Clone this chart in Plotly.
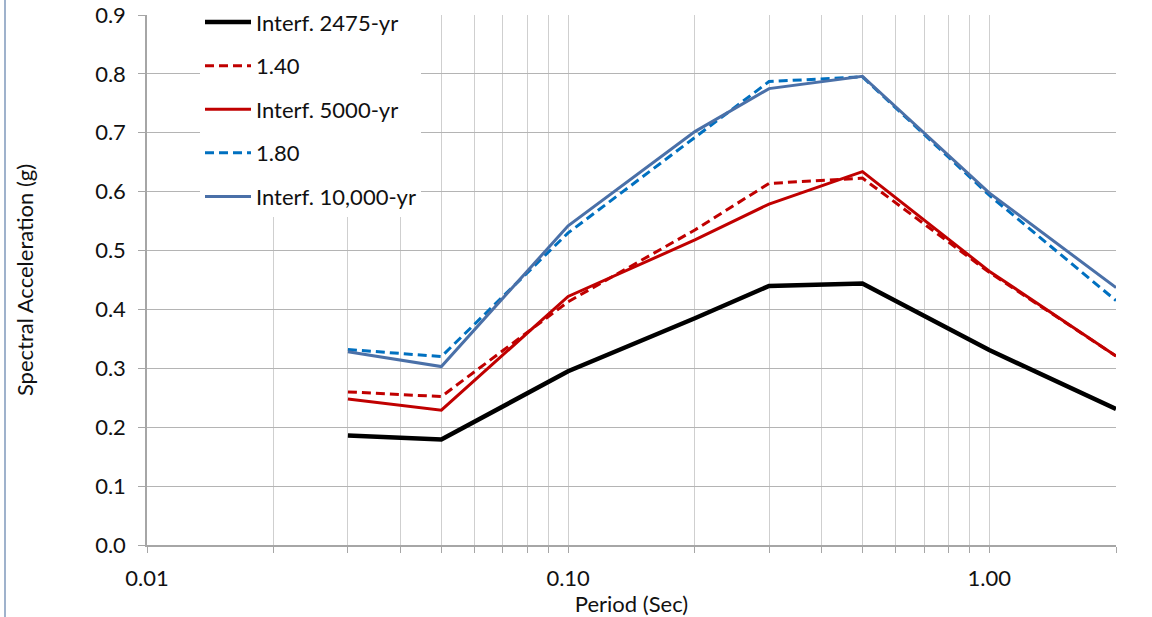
import plotly.graph_objects as go

# Spectral periods (s)
period = [0.03, 0.05, 0.1, 0.2, 0.3, 0.5, 1.0, 2.0]

# Spectral accelerations (g)
interf_2475 = [0.186, 0.179, 0.295, 0.385, 0.440, 0.444, 0.331, 0.231]
scaled_140 = [0.260, 0.252, 0.413, 0.535, 0.614, 0.623, 0.463, 0.321]
interf_5000 = [0.248, 0.229, 0.422, 0.518, 0.579, 0.634, 0.465, 0.321]
scaled_180 = [0.332, 0.320, 0.530, 0.693, 0.787, 0.795, 0.594, 0.415]
interf_10000 = [0.328, 0.303, 0.542, 0.702, 0.775, 0.796, 0.598, 0.437]

series = [
    ("Interf. 2475-yr", interf_2475, "#000000", 4.5, "solid"),
    ("1.40", scaled_140, "#C00000", 3, "9px,5px"),
    ("Interf. 5000-yr", interf_5000, "#C00000", 3, "solid"),
    ("1.80", scaled_180, "#0070C0", 3, "9px,5px"),
    ("Interf. 10,000-yr", interf_10000, "#4A70A8", 3, "solid"),
]

# x tick positions: every 1-9 step on the log axis, labels on decades only
x_ticks = [0.01, 0.02, 0.03, 0.04, 0.05, 0.06, 0.07, 0.08, 0.09,
           0.1, 0.2, 0.3, 0.4, 0.5, 0.6, 0.7, 0.8, 0.9, 1.0, 2.0]
x_labels = ["0.01"] + [""] * 8 + ["0.10"] + [""] * 8 + ["1.00", ""]

y_ticks = [0.0, 0.1, 0.2, 0.3, 0.4, 0.5, 0.6, 0.7, 0.8, 0.9]
y_labels = [f"{v:.1f}" for v in y_ticks]

fig = go.Figure()
for i, (name, vals, color, width, dash) in enumerate(series):
    fig.add_trace(go.Scatter(
        x=period, y=vals, mode="lines", name=name,
        legendgroup=f"g{i}",
        line=dict(color=color, width=width, dash=dash),
    ))

FONT = "Lato, Calibri, Arial, sans-serif"
TXT = "#111111"

ml, mr, mt, mb = 147, 36, 15, 72
plot_w = 1152 - ml - mr
plot_h = 617 - mt - mb

fig.update_layout(
    width=1152, height=617,
    margin=dict(l=ml, r=mr, t=mt, b=mb, autoexpand=False),
    paper_bgcolor="white", plot_bgcolor="white",
    font=dict(family=FONT, color=TXT, size=21),
    showlegend=True,
    legend=dict(
        xref="paper", yref="container",
        x=(200 - ml) / plot_w, y=0.998, xanchor="left", yanchor="top",
        bgcolor="white", borderwidth=0,
        font=dict(family=FONT, size=22, color=TXT),
        traceorder="grouped", tracegroupgap=12,
        itemwidth=46,
    ),
    xaxis=dict(
        type="log",
        range=[-2, 0.30103],
        tickvals=x_ticks, ticktext=x_labels,
        showgrid=True, gridcolor="#CFCFCF", gridwidth=1,
        showline=True, linecolor="#A6A6A6", linewidth=1.5,
        ticks="outside", ticklen=6, tickcolor="#A6A6A6",
        ticklabelstandoff=7,
        tickfont=dict(family=FONT, size=22, color=TXT),
        title=dict(text="Period (Sec)", standoff=4,
                   font=dict(family=FONT, size=22, color=TXT)),
        zeroline=False, mirror=False,
    ),
    yaxis=dict(
        range=[0, 0.9],
        tickvals=y_ticks, ticktext=y_labels,
        showgrid=True, gridcolor="#B4B4B4", gridwidth=1,
        showline=True, linecolor="#A6A6A6", linewidth=1.5,
        ticks="outside", ticklen=7, tickcolor="#A6A6A6",
        ticklabelstandoff=8,
        tickfont=dict(family=FONT, size=22, color=TXT),
        title=dict(text="Spectral Acceleration (g)", standoff=55,
                   font=dict(family=FONT, size=22, color=TXT)),
        zeroline=False,
    ),
    shapes=[dict(
        type="line", xref="paper", yref="paper",
        x0=(5 - ml) / plot_w, x1=(5 - ml) / plot_w,
        y0=-mb / plot_h, y1=1 + mt / plot_h,
        line=dict(color="#9FB2CC", width=2),
    )],
)

fig.write_html("out.html")
